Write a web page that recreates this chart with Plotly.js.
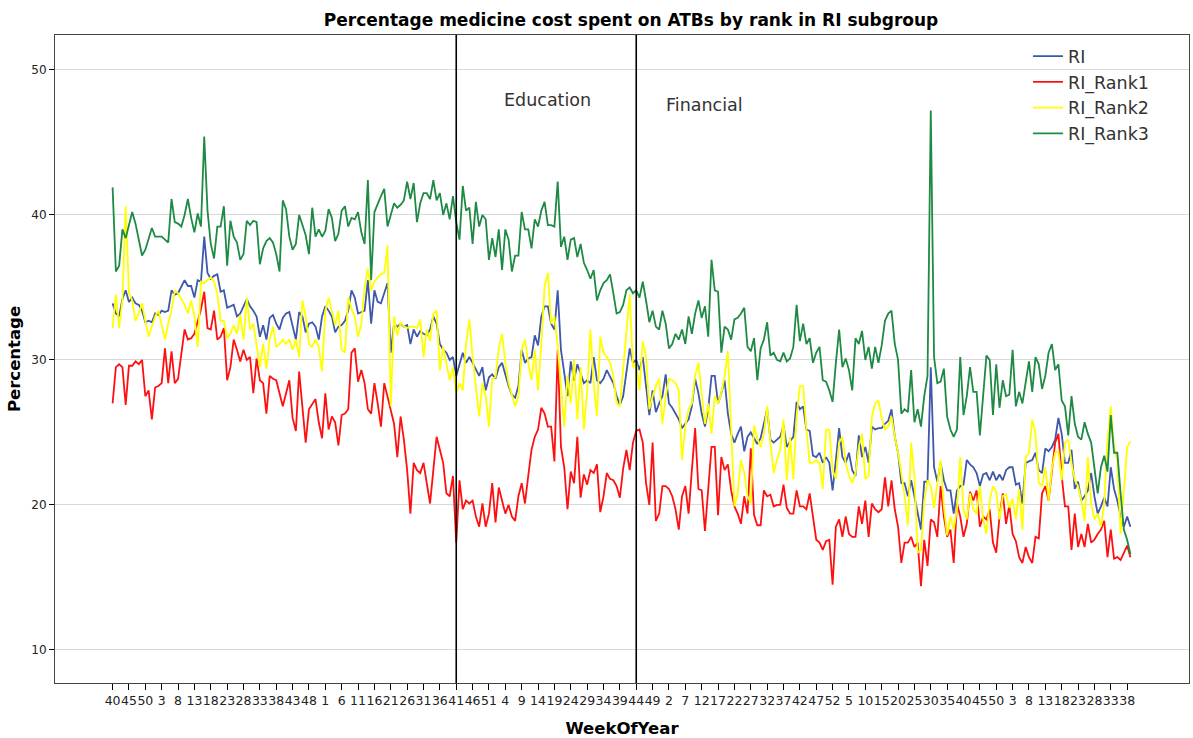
<!DOCTYPE html>
<html>
<head>
<meta charset="utf-8">
<script src="https://cdn.plot.ly/plotly-3.0.1.min.js"></script>
<style>html,body{margin:0;padding:0;background:#fff;}#chart{width:1193px;height:738px;}</style>
</head>
<body>
<div id="chart"></div>
<script>
// Tick labels (every 5th week of the WeekOfYear category axis)
const tickLabels = ["40","45","50","3","8","13","18","23","28","33","38","43","48","1","6","11","16","21","26","31","36","41","46","51","4","9","14","19","24","29","34","39","44","49","2","7","12","17","22","27","32","37","42","47","52","5","10","15","20","25","30","35","40","45","50","3","8","13","18","23","28","33","38"];

const RI = [
33.9,33.2,33.0,34.2,34.8,34.0,34.3,33.9,33.8,33.4,
32.6,32.7,32.6,33.2,33.1,33.4,33.3,33.4,34.8,34.5,
34.6,35.0,35.5,35.1,35.1,34.3,35.5,35.4,38.5,36.0,
35.6,35.8,35.9,34.7,34.8,33.6,33.7,33.8,33.0,33.2,
33.7,34.2,33.7,33.4,33.0,31.6,32.4,31.4,32.9,33.1,
32.5,32.1,32.9,33.2,33.3,32.3,31.4,33.3,33.0,31.9,
32.5,32.6,32.3,31.4,33.0,33.7,33.4,33.0,31.9,32.3,
32.4,32.7,33.4,34.8,34.3,33.2,33.3,33.4,35.5,32.5,
34.8,34.0,33.9,34.6,35.3,30.5,32.5,32.3,32.5,32.3,
32.4,31.1,32.1,31.6,32.0,31.8,31.7,32.1,33.0,32.5,
31.1,30.7,30.5,30.0,30.2,28.9,29.8,30.5,29.8,30.2,
29.8,29.3,28.9,29.5,27.9,28.8,29.0,28.7,29.5,29.8,
28.9,28.2,27.6,27.4,28.2,30.7,29.8,30.1,30.2,31.7,
31.0,33.0,33.7,33.7,32.5,32.1,34.8,30.7,29.1,27.5,
29.9,28.6,29.7,29.1,28.4,28.6,28.4,30.2,28.6,28.4,
28.7,29.3,28.9,28.4,27.5,26.9,27.5,29.2,30.8,29.8,
30.0,29.3,30.2,28.2,26.2,27.9,26.4,27.0,27.5,29.0,
27.0,26.7,26.3,25.9,25.3,25.6,25.9,26.8,28.7,27.7,
26.3,25.4,26.6,28.9,28.9,27.0,27.7,28.6,26.3,24.9,
24.3,24.9,25.4,23.7,24.7,25.0,24.6,24.2,24.6,25.6,
26.6,24.5,24.3,24.5,24.7,25.5,24.0,24.4,24.7,27.1,
26.6,26.8,25.2,25.1,23.4,23.3,23.6,22.9,23.3,22.9,
21.0,23.1,25.3,23.3,22.9,23.6,22.4,22.0,24.8,23.3,
24.0,22.9,25.4,25.2,25.3,25.3,25.6,25.8,26.6,24.7,
23.6,21.5,21.5,20.6,21.7,20.6,19.4,18.3,21.6,21.6,
29.5,22.6,21.6,22.9,21.7,21.0,21.0,19.4,21.0,21.3,
21.4,23.1,22.8,22.6,22.2,21.3,22.1,22.2,21.7,22.3,
21.7,22.1,21.7,22.4,22.6,22.6,21.4,21.5,20.1,22.9,
23.0,23.1,23.6,22.4,22.2,23.9,23.7,24.0,24.5,26.0,
24.9,22.9,22.9,23.8,21.1,21.6,20.3,20.6,21.0,22.2,
20.6,19.4,19.9,20.5,19.9,22.6,21.1,20.3,19.2,18.5,
19.2,18.5];

const RI_Rank1 = [
27.0,29.5,29.7,29.5,26.9,29.6,29.6,29.9,29.7,30.0,
27.5,27.9,25.9,28.1,28.2,28.4,30.8,28.4,30.6,28.4,
28.7,30.5,32.1,31.4,31.5,31.8,32.6,33.5,34.7,32.2,
32.1,33.4,31.4,31.6,32.2,28.6,29.5,31.4,30.7,29.9,
30.7,30.0,30.2,27.7,30.1,28.6,28.4,26.3,28.9,28.7,
28.6,27.7,26.8,27.7,28.6,26.0,25.1,29.2,26.6,24.3,
26.6,27.0,27.3,25.7,24.6,27.7,25.2,26.1,25.7,24.1,
26.2,26.3,26.6,30.5,30.8,28.5,29.3,28.4,26.6,26.3,
28.4,27.0,25.4,28.4,27.5,26.7,25.6,23.3,26.1,24.5,
22.4,19.4,22.9,22.4,22.2,22.9,21.5,20.1,22.4,24.7,
23.8,22.9,20.8,20.6,22.0,17.4,21.7,19.7,20.3,20.1,
20.3,19.2,18.5,20.1,18.5,19.4,21.5,18.8,21.2,20.3,
19.4,20.0,19.2,18.9,20.6,21.5,20.1,22.0,23.8,24.7,
25.2,26.7,26.3,25.4,25.4,23.0,30.7,24.0,22.6,19.7,
22.3,21.5,24.7,20.5,22.1,21.4,22.4,22.2,22.8,19.5,
20.6,22.2,21.8,21.7,21.3,20.5,22.5,23.8,22.4,24.3,
25.1,25.2,24.3,21.5,20.0,24.3,18.9,19.4,21.3,21.3,
21.1,20.6,19.7,18.3,20.6,21.3,19.4,22.4,25.3,21.1,
21.0,18.2,21.0,24.0,24.0,19.3,23.3,22.4,22.8,21.0,
19.9,19.4,18.7,20.6,19.4,23.9,19.3,18.6,18.6,21.0,
20.6,20.7,19.9,20.0,20.0,21.4,19.8,19.4,19.4,21.0,
19.9,19.9,19.7,20.8,19.2,17.6,17.4,16.9,17.5,17.6,
14.5,18.5,19.0,17.8,19.2,18.0,17.8,17.8,19.9,18.7,
20.3,17.8,20.1,19.7,19.5,19.7,21.9,19.9,21.7,19.7,
18.5,16.0,17.4,17.4,17.8,17.1,17.4,14.4,17.6,15.8,
19.0,18.8,17.8,21.3,19.2,17.8,18.3,16.0,20.1,19.2,
17.8,18.7,20.9,20.3,21.0,18.5,19.2,19.0,19.7,17.4,
16.7,19.2,20.8,18.7,20.0,18.0,17.5,16.4,16.0,17.1,
16.4,16.0,17.8,17.7,20.8,21.3,20.3,22.2,24.3,24.9,
22.0,19.9,19.9,16.9,19.4,17.1,18.0,17.1,18.7,17.4,
17.6,18.0,18.3,18.9,16.4,18.3,16.3,16.4,16.2,16.7,
17.2,16.4];

const RI_Rank2 = [
32.2,34.5,32.2,34.1,40.6,34.6,34.1,32.7,33.2,33.9,
32.7,31.6,32.3,33.0,33.4,32.3,31.4,32.5,33.4,34.8,
34.6,34.2,33.8,33.2,34.1,33.0,30.9,35.4,35.3,35.5,
35.7,35.4,34.6,32.7,32.7,31.5,31.8,32.4,31.8,33.1,
31.4,34.3,32.1,32.5,31.1,29.5,31.1,29.4,31.4,32.3,
30.9,31.1,31.4,31.1,31.4,30.7,31.4,30.2,34.1,33.0,
31.1,30.9,31.4,30.9,29.2,33.4,34.3,33.4,32.4,33.4,
30.7,30.5,34.3,33.5,33.0,31.6,32.5,35.0,36.3,34.8,
35.4,35.7,35.9,36.0,37.9,26.8,33.0,31.7,32.6,32.3,
32.2,32.3,32.3,32.2,32.8,30.2,32.1,31.3,33.2,33.4,
29.3,30.9,29.8,28.6,29.5,27.7,28.4,27.9,31.1,32.8,
30.2,27.9,26.1,28.4,27.5,25.4,28.7,28.8,30.8,31.8,
29.8,28.4,27.5,26.8,27.5,30.7,31.4,29.8,28.6,30.7,
27.9,31.1,35.1,36.0,32.5,33.0,30.9,27.9,25.4,28.9,
27.0,30.0,25.9,29.5,25.2,27.9,32.1,28.4,26.1,31.6,
30.5,30.2,29.8,28.9,27.0,26.8,29.5,32.0,34.5,29.5,
29.8,27.9,31.3,30.2,26.6,27.5,28.2,28.7,25.6,27.5,
28.7,28.6,28.4,27.9,23.1,25.4,26.6,27.0,28.9,29.8,
27.9,25.6,27.0,24.9,27.5,27.0,27.7,28.9,30.6,25.2,
19.9,20.8,23.1,22.2,20.6,20.1,25.5,24.6,24.0,24.9,
26.8,24.3,22.2,23.1,23.8,25.9,21.7,24.7,21.8,26.1,
28.2,28.2,25.2,22.9,22.9,23.1,22.9,21.1,25.2,25.2,
22.4,21.8,24.3,24.7,22.9,22.0,21.5,22.2,24.0,24.9,
21.8,22.0,26.1,27.0,27.2,26.0,25.2,25.4,26.1,24.7,
23.6,22.2,20.6,18.6,24.3,22.0,16.7,16.9,20.3,21.7,
21.3,19.8,21.3,23.1,19.9,17.9,19.2,18.3,19.7,23.3,
19.7,19.0,20.8,19.7,19.4,21.3,19.0,18.0,20.3,21.3,
20.9,19.0,20.6,20.7,19.8,20.4,19.0,21.1,18.3,23.3,
23.6,25.9,24.9,21.5,21.3,22.6,20.3,22.5,23.6,23.7,
21.7,24.3,24.5,22.9,21.7,21.3,20.3,18.9,23.3,20.1,
19.0,19.4,18.5,20.1,24.5,26.8,24.0,23.1,18.0,21.3,
24.0,24.4];

const RI_Rank3 = [
41.9,36.1,36.5,39.0,38.4,39.3,40.2,39.4,38.3,37.2,
37.6,38.4,39.1,38.5,38.5,38.5,38.3,38.1,41.1,39.5,
39.4,39.2,40.0,41.1,39.8,38.8,40.1,39.2,45.4,40.3,
38.0,37.0,39.2,39.2,40.6,36.5,39.6,38.5,38.1,36.9,
37.3,39.6,39.3,39.6,39.5,36.6,37.7,38.2,38.4,38.1,
37.3,36.1,41.0,40.4,38.5,37.6,38.0,40.0,39.3,38.6,
37.3,40.5,38.5,39.0,38.5,38.9,40.4,39.8,38.2,38.7,
40.3,40.6,39.2,39.8,39.7,40.2,38.8,38.0,42.4,35.5,
40.2,40.8,41.3,41.8,39.2,40.0,40.8,40.5,40.7,41.0,
42.3,41.1,42.2,39.5,40.8,41.5,41.5,41.1,42.4,41.0,
41.5,40.0,40.8,39.7,41.3,39.5,38.3,42.0,40.3,40.5,
38.0,40.9,39.2,40.0,39.7,36.9,38.4,37.1,39.0,36.2,
39.0,38.3,36.1,37.2,37.2,40.2,39.0,39.0,37.7,39.7,
39.2,40.3,40.9,39.3,39.3,39.2,42.3,37.8,38.5,36.9,
38.3,38.4,37.1,38.0,36.7,36.2,35.6,36.2,34.1,34.8,
35.3,35.5,35.9,34.6,33.2,33.3,33.8,34.8,35.0,34.6,
34.8,34.3,35.4,34.1,32.6,33.4,32.3,32.1,33.4,32.5,
30.8,31.1,31.8,31.4,32.1,31.1,33.0,31.8,33.2,34.1,
32.9,33.7,31.6,36.9,34.8,34.7,30.5,32.3,32.1,31.4,
32.8,32.9,33.2,33.6,30.9,30.6,31.5,28.6,30.8,31.4,
32.6,30.3,30.5,30.0,29.9,30.5,29.9,30.1,30.9,33.8,
31.3,32.5,31.1,31.5,29.8,30.5,30.9,28.6,28.5,27.9,
27.1,29.8,32.1,29.5,30.1,29.3,27.9,31.5,31.1,32.0,
30.0,30.9,29.4,30.9,29.8,31.0,32.7,33.2,33.4,31.1,
30.0,26.3,26.6,26.4,29.3,25.7,26.6,25.4,27.5,28.9,
47.2,30.2,28.4,28.5,29.4,26.1,25.2,24.7,25.2,30.2,
26.2,27.5,29.5,27.8,27.8,24.8,27.7,30.3,30.0,26.2,
29.7,26.7,28.6,27.5,27.6,30.7,26.8,27.8,27.0,28.6,
29.9,27.8,30.2,29.7,28.0,28.9,30.5,31.1,29.3,29.7,
27.2,26.8,24.8,27.5,25.6,24.7,24.5,25.7,24.9,24.3,
22.6,20.8,22.6,23.4,22.3,26.2,23.6,23.6,20.8,18.3,
17.6,16.6];

// Events: index of the week where each intervention starts
const eventWeekIndex = [105, 160];
const eventLabels = ["Education", "Financial"];

const seriesNames = ["RI", "RI_Rank1", "RI_Rank2", "RI_Rank3"];
const seriesValues = [RI, RI_Rank1, RI_Rank2, RI_Rank3];
const seriesColors = ["#3e58ac", "#ff1010", "#ffff00", "#1e8a44"];

const xIdx = RI.map((_, i) => i);
const tickVals = tickLabels.map((_, k) => k * 5);

const traces = seriesNames.map((name, s) => ({
  type: "scatter", mode: "lines", name: name,
  x: xIdx, y: seriesValues[s],
  line: { color: seriesColors[s], width: 1.8 },
  hoverinfo: "x+y+name"
}));

const FONT = "DejaVu Sans, Verdana, sans-serif";

const shapes = eventWeekIndex.map(ix => ({
  type: "line", xref: "x", yref: "paper", x0: ix, x1: ix, y0: 0, y1: 1,
  line: { color: "#000", width: 1.6 }
}));

const labelOffsets = [14, 8.5];
const labelY = [47.9, 47.6];
const annotations = eventWeekIndex.map((ix, k) => ({
  xref: "x", yref: "y", x: ix + labelOffsets[k], y: labelY[k],
  xanchor: "left", yanchor: "middle", showarrow: false,
  text: eventLabels[k], font: { family: FONT, size: 17.5, color: "#333" }
}));

const layout = {
  width: 1193, height: 738,
  margin: { l: 55, r: 4, t: 35, b: 55 },
  paper_bgcolor: "#fff", plot_bgcolor: "#fff",
  font: { family: FONT, size: 12, color: "#222" },
  title: { text: "<b>Percentage medicine cost spent on ATBs by rank in RI subgroup</b>",
           font: { family: FONT, size: 17, color: "#000" },
           xref: "paper", x: 0.508, xanchor: "center", y: 0.973, yanchor: "middle" },
  xaxis: {
    range: [-17.6, 328.9], tickmode: "array", tickvals: tickVals, ticktext: tickLabels,
    tickangle: 0, ticks: "outside", ticklen: 6, tickcolor: "#000", tickwidth: 1,
    tickfont: { family: FONT, size: 12.5, color: "#222" },
    showgrid: false, zeroline: false, showline: true, linecolor: "#444", linewidth: 1, mirror: true,
    title: { text: "<b>WeekOfYear</b>", font: { family: FONT, size: 16.5, color: "#000" }, standoff: 20 },
    automargin: false, fixedrange: true
  },
  yaxis: {
    range: [7.72, 52.41], tickmode: "array", tickvals: [10, 20, 30, 40, 50],
    ticks: "outside", ticklen: 5, tickcolor: "#000", tickwidth: 1,
    tickfont: { family: FONT, size: 12, color: "#222" },
    showgrid: true, gridcolor: "#d9d9d9", gridwidth: 1, zeroline: false,
    showline: true, linecolor: "#444", linewidth: 1, mirror: true,
    title: { text: "<b>Percentage</b>", font: { family: FONT, size: 16.5, color: "#000" }, standoff: 6 },
    automargin: false, fixedrange: true
  },
  legend: {
    x: 0.858, y: 0.995, xanchor: "left", yanchor: "top",
    bgcolor: "rgba(255,255,255,0)", borderwidth: 0,
    font: { family: FONT, size: 17.5, color: "#333" }
  },
  shapes: shapes,
  annotations: annotations,
  showlegend: true
};

Plotly.newPlot("chart", traces, layout, { displayModeBar: false, staticPlot: true });
</script>
</body>
</html>
